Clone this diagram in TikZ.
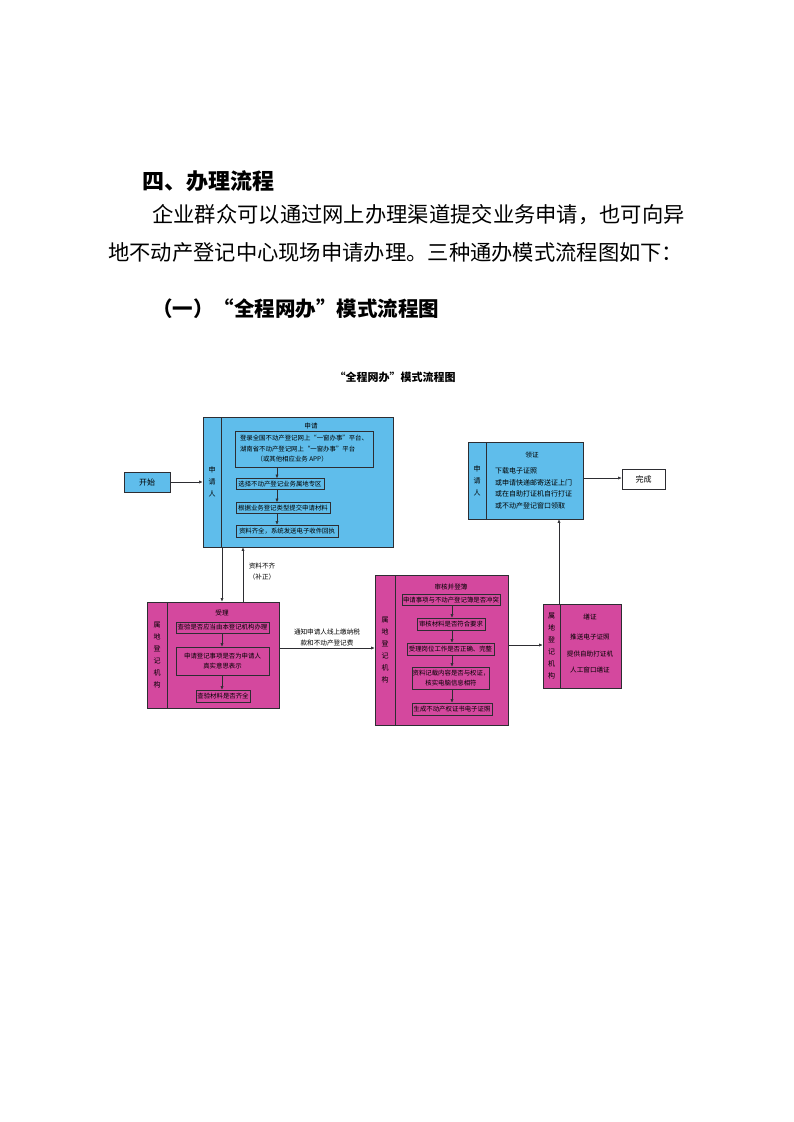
\documentclass[tikz,border=0pt]{standalone}
\usepackage{fontspec}
\newfontfamily\cjk{Noto Sans CJK SC}
\usetikzlibrary{arrows.meta}
\definecolor{bluefill}{RGB}{95,189,235}
\definecolor{pinkfill}{RGB}{212,72,158}
\definecolor{edge}{RGB}{45,45,50}
\begin{document}
\begin{tikzpicture}[x=1pt,y=-1pt,font=\cjk,
  outer/.style={draw=edge, line width=0.7pt, inner sep=0pt},
  bluebox/.style={outer, fill=bluefill},
  pinkbox/.style={outer, fill=pinkfill},
  sub/.style={draw=edge, line width=0.6pt, inner sep=0pt, align=center,
    font=\cjk\fontsize{6.4}{10.5}\selectfont},
  side/.style={align=center, font=\cjk\fontsize{7}{12}\selectfont},
  lab/.style={inner sep=0pt, align=center, font=\cjk\fontsize{6.6}{11}\selectfont},
  arr/.style={-{Latex[length=3.5pt,width=3pt]}, line width=0.5pt, draw=edge},
  para/.style={anchor=west, inner sep=0pt, font=\cjk\fontsize{21.3}{25}\selectfont}
]
\useasboundingbox (0,0) rectangle (793,1122);
\fill[white] (0,0) rectangle (793,1122);

% page text
\node[anchor=west, inner sep=0pt, font=\cjk\fontsize{22}{26}\bfseries\selectfont] (h1) at (142,181) {四、办理流程};
\node[para] (p1) at (152,215) {企业群众可以通过网上办理渠道提交业务申请，也可向异};
\node[para] (p2) at (108,252) {地不动产登记中心现场申请办理。三种通办模式流程图如下：};
\node[anchor=west, inner sep=0pt, font=\cjk\fontsize{20.5}{24}\bfseries\selectfont] (h2) at (152,309) {（一）“全程网办”模式流程图};
\node[inner sep=0pt, font=\cjk\fontsize{11}{13}\bfseries\selectfont] (title) at (395,377) {“全程网办”模式流程图};

% start
\node[bluebox, minimum width=46pt, minimum height=20pt, font=\cjk\fontsize{8}{10}\selectfont] (start) at (147,482) {开始};

% blue A
\node[bluebox, minimum width=190pt, minimum height=130pt] (blueA) at (298,482) {};
\node[bluebox, side, minimum width=18pt, minimum height=130pt] (blueAs) at (212,482) {申\\请\\人};
\node[lab] (blueAt) at (311,426) {申请};
\node[sub, align=left, minimum width=138pt, minimum height=36pt] (a1) at (304,449)
  {登录全国不动产登记网上“一窗办事”平台、\\湖南省不动产登记网上“一窗办事”平台\\\hspace*{2.6em}（或其他相应业务 APP）};
\node[sub, minimum width=88pt, minimum height=11pt] (a2) at (280,484) {选择不动产登记业务属地专区};
\node[sub, minimum width=94pt, minimum height=11pt] (a3) at (283,508) {根据业务登记类型提交申请材料};
\node[sub, minimum width=102pt, minimum height=12pt] (a4) at (287,531) {资料齐全，系统发送电子收件回执};
\coordinate (ax) at (277,0);
\draw[arr] (a1.south -| ax) -- (a2.north -| ax);
\draw[arr] (a2.south -| ax) -- (a3.north -| ax);
\draw[arr] (a3.south -| ax) -- (a4.north -| ax);
\coordinate (ys) at (0,482);
\draw[arr] (start.east |- ys) -- (blueAs.west |- ys);

% pink A
\node[pinkbox, minimum width=132pt, minimum height=106pt] (pinkA) at (213,655) {};
\node[pinkbox, side, minimum width=20pt, minimum height=106pt] (pinkAs) at (157,655) {属\\地\\登\\记\\机\\构};
\node[lab] (pinkAt) at (222,613) {受理};
\node[sub, minimum width=93pt, minimum height=11pt] (b1) at (222.5,627.5) {查验是否应当由本登记机构办理};
\node[sub, minimum width=93pt, minimum height=28pt] (b2) at (222.5,661) {申请登记事项是否为申请人\\真实意思表示};
\node[sub, minimum width=54pt, minimum height=12pt] (b3) at (223,696) {查验材料是否齐全};
\coordinate (bx) at (222,0);
\draw[arr] (b1.south -| bx) -- (b2.north -| bx);
\draw[arr] (b2.south -| bx) -- (b3.north -| bx);

% between blue A and pink A
\coordinate (dx) at (222,0);
\coordinate (ux) at (243,0);
\draw[arr] (blueA.south -| dx) -- (pinkA.north -| dx);
\draw[arr] (pinkA.north -| ux) -- (blueA.south -| ux);
\node[lab] (lack) at (262,571.5) {资料不齐\\（补正）};

% pink B
\node[pinkbox, minimum width=133pt, minimum height=150pt] (pinkB) at (441.5,650) {};
\node[pinkbox, side, minimum width=20pt, minimum height=150pt] (pinkBs) at (385,650) {属\\地\\登\\记\\机\\构};
\node[lab] (pinkBt) at (451,587) {审核并登簿};
\node[sub, minimum width=98pt, minimum height=11pt] (c1) at (451,600) {申请事项与不动产登记簿是否冲突};
\node[sub, minimum width=68pt, minimum height=12pt] (c2) at (451,624) {审核材料是否符合要求};
\node[sub, minimum width=87pt, minimum height=12pt] (c3) at (450.5,649) {受理岗位工作是否正确、完整};
\node[sub, minimum width=76pt, minimum height=22pt] (c4) at (451,678) {资料记载内容是否与权证，\\核实电脑信息相符};
\node[sub, minimum width=80pt, minimum height=12pt] (c5) at (452,709) {生成不动产权证书电子证照};
\coordinate (cx) at (452,0);
\draw[arr] (c1.south -| cx) -- (c2.north -| cx);
\draw[arr] (c2.south -| cx) -- (c3.north -| cx);
\draw[arr] (c3.south -| cx) -- (c4.north -| cx);
\draw[arr] (c4.south -| cx) -- (c5.north -| cx);

\coordinate (yab) at (0,648);
\draw[arr] (pinkA.east |- yab) -- (pinkBs.west |- yab);
\node[lab] (notify) at (327,637.5) {通知申请人线上缴纳税\\款和不动产登记费};

% pink C
\node[pinkbox, minimum width=78pt, minimum height=84pt] (pinkC) at (582,646) {};
\node[pinkbox, side, minimum width=17pt, minimum height=84pt] (pinkCs) at (551.5,646) {属\\地\\登\\记\\机\\构};
\node[lab] (pinkCt) at (590,617) {缮证};
\node[lab] (d1) at (590,637) {推送电子证照};
\node[lab] (d2) at (590,653.5) {提供自助打证机};
\node[lab] (d3) at (590,670) {人工窗口缮证};
\coordinate (ybc) at (0,645);
\draw[arr] (pinkB.east |- ybc) -- (pinkCs.west |- ybc);

% blue B
\node[bluebox, minimum width=115pt, minimum height=77pt] (blueB) at (525.5,480.5) {};
\node[bluebox, side, minimum width=18pt, minimum height=77pt] (blueBs) at (477,480.5) {申\\请\\人};
\node[lab] (blueBt) at (532,455) {领证};
\node[anchor=west, inner sep=0pt, align=left, font=\cjk\fontsize{7}{11.7}\selectfont] (getlines) at (495,488.5)
  {下载电子证照\\或申请快递邮寄送证上门\\或在自助打证机自行打证\\或不动产登记窗口领取};
\coordinate (upx) at (559,0);
\draw[arr] (pinkC.north -| upx) -- (blueB.south -| upx);

% done
\node[outer, fill=white, minimum width=43pt, minimum height=20pt, font=\cjk\fontsize{8}{10}\selectfont] (done) at (643.5,479) {完成};
\coordinate (yd) at (0,478);
\draw[arr] (blueB.east |- yd) -- (done.west |- yd);
\end{tikzpicture}
\end{document}
